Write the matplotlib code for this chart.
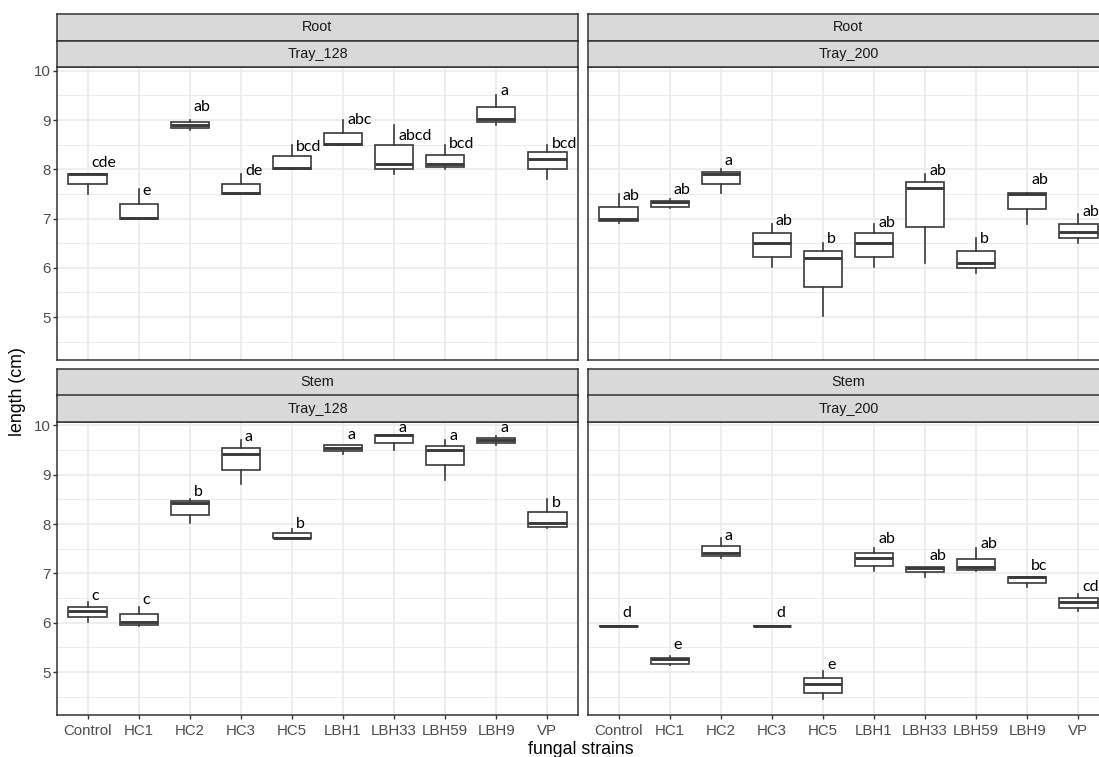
import matplotlib
matplotlib.use("Agg")
import matplotlib.pyplot as plt

# ---------------- data ----------------
strains = ["Control", "HC1", "HC2", "HC3", "HC5", "LBH1", "LBH33", "LBH59", "LBH9", "VP"]

# Root / Tray_128
root128_lo  = [7.50, 7.00, 8.80, 7.50, 8.00, 8.50, 7.90, 8.00, 8.90, 7.80]
root128_q1  = [7.70, 7.00, 8.84, 7.50, 8.00, 8.50, 8.00, 8.05, 8.95, 8.00]
root128_med = [7.90, 7.02, 8.89, 7.52, 8.02, 8.52, 8.10, 8.10, 9.02, 8.20]
root128_q3  = [7.90, 7.30, 8.95, 7.70, 8.26, 8.74, 8.49, 8.30, 9.26, 8.35]
root128_hi  = [7.90, 7.60, 9.00, 7.90, 8.50, 9.00, 8.90, 8.50, 9.50, 8.50]
root128_letters = ["cde", "e", "ab", "de", "bcd", "abc", "abcd", "bcd", "a", "bcd"]
root128_label_y = [8.12, 7.56, 9.26, 7.96, 8.45, 9.00, 8.67, 8.51, 9.59, 8.51]

# Root / Tray_200
root200_lo  = [6.91, 7.21, 7.51, 6.02, 5.03, 6.02, 6.10, 5.90, 6.90, 6.50]
root200_q1  = [6.95, 7.23, 7.70, 6.23, 5.62, 6.23, 6.83, 6.00, 7.19, 6.60]
root200_med = [7.00, 7.33, 7.90, 6.50, 6.20, 6.50, 7.63, 6.10, 7.50, 6.72]
root200_q3  = [7.24, 7.35, 7.95, 6.70, 6.35, 6.70, 7.75, 6.35, 7.51, 6.89]
root200_hi  = [7.49, 7.40, 8.00, 6.90, 6.50, 6.90, 7.90, 6.60, 7.50, 7.10]
root200_letters = ["ab", "ab", "a", "ab", "b", "ab", "ab", "b", "ab", "ab"]
root200_label_y = [7.46, 7.57, 8.17, 6.96, 6.58, 6.91, 7.97, 6.58, 7.78, 7.14]

# Stem / Tray_128
stem128_lo  = [6.02, 5.93, 8.02, 8.81, 7.71, 9.42, 9.51, 8.90, 9.60, 7.92]
stem128_q1  = [6.11, 5.95, 8.19, 9.09, 7.71, 9.48, 9.64, 9.19, 9.65, 7.94]
stem128_med = [6.23, 6.02, 8.43, 9.42, 7.72, 9.54, 9.80, 9.50, 9.71, 8.03]
stem128_q3  = [6.32, 6.17, 8.46, 9.54, 7.81, 9.60, 9.81, 9.59, 9.75, 8.25]
stem128_hi  = [6.43, 6.31, 8.51, 9.70, 7.91, 9.60, 9.81, 9.70, 9.79, 8.51]
stem128_letters = ["c", "c", "b", "a", "b", "a", "a", "a", "a", "b"]
stem128_label_y = [6.55, 6.47, 8.66, 9.76, 8.01, 9.80, 9.94, 9.78, 9.94, 8.43]

# Stem / Tray_200
stem200_lo  = [5.93, 5.15, 7.32, 5.93, 4.45, 7.04, 6.92, 7.04, 6.73, 6.24]
stem200_q1  = [5.93, 5.17, 7.36, 5.93, 4.58, 7.16, 7.02, 7.06, 6.81, 6.30]
stem200_med = [5.93, 5.26, 7.42, 5.93, 4.75, 7.31, 7.12, 7.13, 6.92, 6.42]
stem200_q3  = [5.93, 5.28, 7.55, 5.93, 4.88, 7.41, 7.13, 7.30, 6.93, 6.51]
stem200_hi  = [5.93, 5.32, 7.72, 5.93, 5.03, 7.51, 7.13, 7.51, 6.93, 6.59]
stem200_letters = ["d", "e", "a", "d", "e", "ab", "ab", "ab", "bc", "cd"]
stem200_label_y = [6.19, 5.54, 7.76, 6.19, 5.15, 7.69, 7.36, 7.59, 7.15, 6.73]

y_ticks = [5, 6, 7, 8, 9, 10]

# ---------------- figure ----------------
W, H = 1099, 757
fig = plt.figure(figsize=(W / 100, H / 100), dpi=100)
plt.rcParams["font.family"] = ["Liberation Sans", "DejaVu Sans"]

DARK = "#333333"
BOXC = "#3A3A3A"
GRID = "#EBEBEB"


def px_axes(x0, y0, x1, y1):
    return fig.add_axes([x0 / W, 1 - y1 / H, (x1 - x0) / W, (y1 - y0) / H])


def strip(x0, y0, x1, y1, label):
    sax = px_axes(x0, y0, x1, y1)
    sax.set_facecolor("#D9D9D9")
    sax.set_xticks([])
    sax.set_yticks([])
    for s in sax.spines.values():
        s.set_color(DARK)
        s.set_linewidth(1.1)
    sax.text(0.5, 0.5, label, transform=sax.transAxes, ha="center", va="center",
             fontsize=10.4, color="#1A1A1A")


panels = [
    ("Root", "Tray_128", 0, 0, root128_lo, root128_q1, root128_med, root128_q3, root128_hi,
     root128_letters, root128_label_y),
    ("Root", "Tray_200", 1, 0, root200_lo, root200_q1, root200_med, root200_q3, root200_hi,
     root200_letters, root200_label_y),
    ("Stem", "Tray_128", 0, 1, stem128_lo, stem128_q1, stem128_med, stem128_q3, stem128_hi,
     stem128_letters, stem128_label_y),
    ("Stem", "Tray_200", 1, 1, stem200_lo, stem200_q1, stem200_med, stem200_q3, stem200_hi,
     stem200_letters, stem200_label_y),
]

col_x = [(57, 578), (588, 1109)]
row_y = [(67.3, 360.0), (422.0, 715.0)]
strip_y = [((14.0, 40.5), (40.5, 67.3)), ((368.5, 395.5), (395.5, 422.0))]

positions = list(range(1, len(strains) + 1))

for organ, tray, c, r, lo, q1, med, q3, hi, letters, label_y in panels:
    x0, x1 = col_x[c]
    y0, y1 = row_y[r]
    ax = px_axes(x0, y0, x1, y1)
    ax.set_facecolor("white")

    stats = [dict(whislo=lo[i], q1=q1[i], med=med[i], q3=q3[i], whishi=hi[i], fliers=[])
             for i in range(len(strains))]
    ax.bxp(stats, positions=positions, widths=0.75, showfliers=False, showcaps=False,
           patch_artist=True,
           boxprops=dict(facecolor="white", edgecolor=BOXC, linewidth=1.2),
           medianprops=dict(color=BOXC, linewidth=2.1, solid_capstyle="butt"),
           whiskerprops=dict(color=BOXC, linewidth=1.2))

    for p, txt, ly in zip(positions, letters, label_y):
        ax.text(p + 0.08, ly, txt, ha="left", va="center", fontsize=11.5,
                family=["Lato", "DejaVu Sans"], color="black")

    ax.set_xlim(0.4, len(strains) + 0.6)
    ax.set_ylim(4.13, 10.07)
    ax.set_xticks(positions)
    ax.set_yticks(y_ticks)
    ax.set_yticks([v + 0.5 for v in y_ticks[:-1]] + [4.5], minor=True)
    ax.set_axisbelow(True)
    ax.grid(True, which="major", color=GRID, linewidth=1.2)
    ax.grid(True, which="minor", axis="y", color=GRID, linewidth=0.7)
    ax.tick_params(which="minor", length=0)
    ax.tick_params(which="major", length=2.6, width=1.0, color=DARK,
                   labelcolor="#4D4D4D", labelsize=10.8, pad=2.2)
    ax.tick_params(axis="x", which="major", pad=4.0)

    if r == 1:
        ax.set_xticklabels(strains)
    else:
        ax.tick_params(axis="x", length=0, labelbottom=False)
    if c == 0:
        ax.set_yticklabels([str(v) for v in y_ticks])
    else:
        ax.tick_params(axis="y", length=0, labelleft=False)

    for s in ax.spines.values():
        s.set_color(DARK)
        s.set_linewidth(1.1)

    (sy0, sy1), (ty0, ty1) = strip_y[r]
    strip(x0, sy0, x1, sy1, organ)
    strip(x0, ty0, x1, ty1, tray)

fig.text(581 / W, 1 - 749 / H, "fungal strains", ha="center", va="center",
         fontsize=12.8, color="black")
fig.text(18 / W, 1 - 392 / H, "length (cm)", ha="center", va="center",
         rotation=90, fontsize=12.8, color="black")

fig.savefig("out.png", dpi=100)
